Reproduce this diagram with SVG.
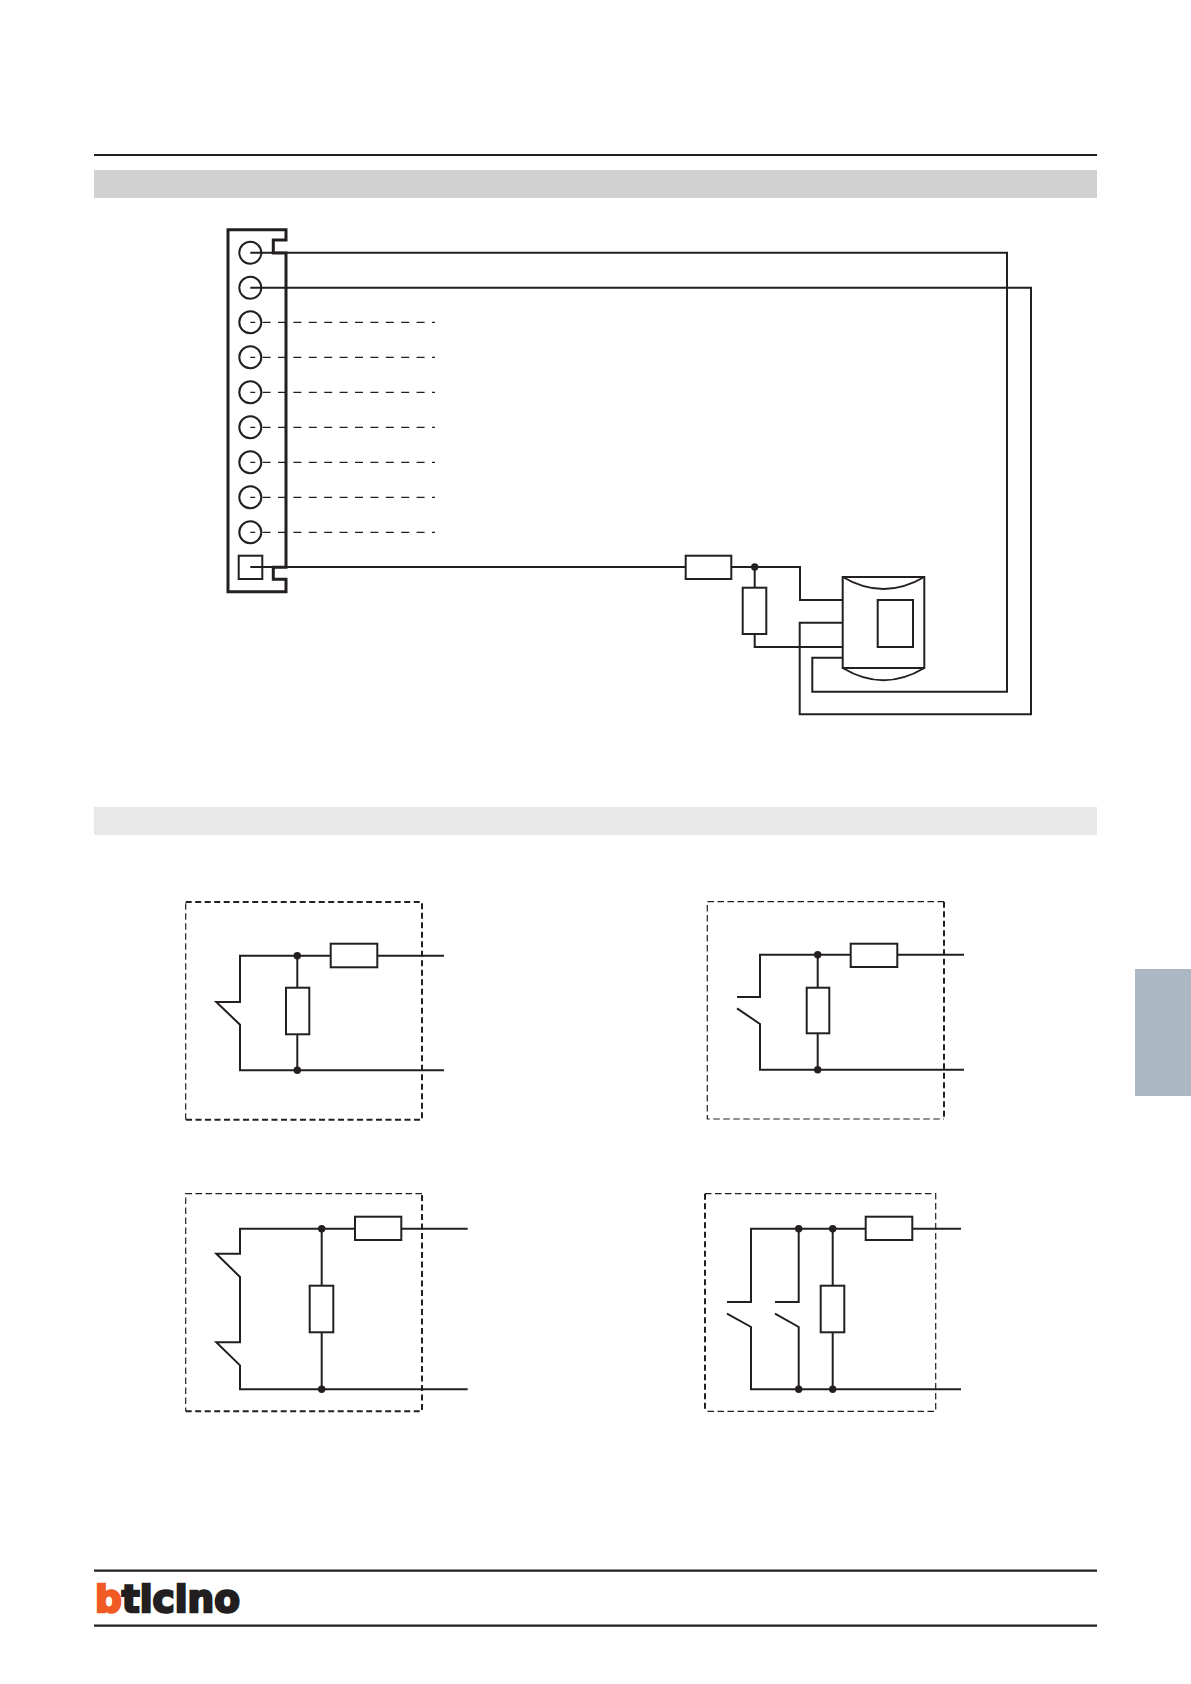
<svg xmlns="http://www.w3.org/2000/svg" width="1191" height="1684" viewBox="0 0 1191 1684">
<defs>
<style>
.w{fill:none;stroke:#231f20;stroke-width:2}
.r{fill:#fff;stroke:#231f20;stroke-width:2}
.d{fill:#231f20}
.ds{fill:none;stroke:#231f20;stroke-width:1.200;stroke-dasharray:8 7.4;stroke-dashoffset:3.1}
.bt{stroke:#231f20;stroke-width:2;stroke-dasharray:6 3.500;fill:none}
.bn{stroke:#231f20;stroke-width:1.200;stroke-dasharray:6.500 3.500;fill:none}
.l{stroke:#231f20;stroke-width:2.200;fill:none}
</style>
</defs>
<rect width="1191" height="1684" fill="#fff"/>
<g id="page">
<path class="l" d="M94 155H1097M94 1570.700H1097M94 1625.700H1097"/>
<rect x="94" y="170" width="1003" height="28" fill="#d1d1d1"/>
<rect x="94" y="807" width="1003" height="28" fill="#e8e8e8"/>
<rect x="1135" y="969" width="56" height="127" fill="#abb8c4"/>
</g>
<g id="logo">
<text x="95" y="1611.700" font-family="'DejaVu Sans',sans-serif" font-weight="700" font-size="38" textLength="145" lengthAdjust="spacingAndGlyphs" stroke-width="2.400" fill="#231f20" stroke="#231f20"><tspan fill="#f15a22" stroke="#f15a22">b</tspan>ticino</text>
</g>
<g id="connectors">
<path class="w" d="M250.300 252.700H1007V691.700H812.300V657.700H842.700"/>
<path class="w" d="M250.300 287.700H1031V714.300H799.700V622.700H842.700"/>
<path class="ds" d="M250.300 322.300H435M250.300 357.300H435M250.300 392.300H435M250.300 427.300H435M250.300 462.300H435M250.300 497.300H435M250.300 532.300H435"/>
<path class="w" d="M250.300 567H685.700M731.300 567H800V600H842.700M754.700 567V587.700M754.700 634V647H842.700"/>
</g>
<g id="terminal-block">
<path fill="none" stroke="#231f20" stroke-width="3" d="M228 229.700H286V240H273.300V253H286V567.300H273.300V579.300H286V591.700H228Z"/>
<g class="w">
<circle cx="250.300" cy="252.700" r="11"/><circle cx="250.300" cy="287.700" r="11"/><circle cx="250.300" cy="322.300" r="11"/><circle cx="250.300" cy="357.300" r="11"/><circle cx="250.300" cy="392.300" r="11"/><circle cx="250.300" cy="427.300" r="11"/><circle cx="250.300" cy="462.300" r="11"/><circle cx="250.300" cy="497.300" r="11"/><circle cx="250.300" cy="532.300" r="11"/>
<rect x="238.700" y="555.700" width="23.600" height="23.300"/>
</g>
</g>
<g id="series-resistor"><rect class="r" x="685.700" y="555.700" width="45.600" height="23.300"/></g>
<g id="parallel-resistor"><rect class="r" x="742.700" y="587.700" width="23.600" height="46.300"/><circle class="d" cx="754.700" cy="567" r="3.700"/></g>
<g id="detector">
<rect class="w" x="842.700" y="577" width="81.600" height="91"/>
<path class="w" d="M842.700 577Q883.500 601 924.300 577M842.700 668Q883.500 692.500 924.300 668"/>
<rect class="w" x="877.700" y="600" width="35.300" height="47"/>
</g>
<g id="circuit-a">
<path class="bn" d="M185.700 1119.700V902"/><path class="bt" d="M185.700 902H422V1119.700H185.700"/>
<path class="w" d="M444 955.700H240V1002H216.300L240 1024.700V1070.300H444M297.300 955.700V1070.300"/>
<rect class="r" x="330.700" y="943.700" width="46.600" height="23.600"/>
<rect class="r" x="286" y="987.700" width="23.300" height="46.600"/>
<circle class="d" cx="297.300" cy="955.700" r="3.700"/><circle class="d" cx="297.300" cy="1070.300" r="3.700"/>
</g>
<g id="circuit-b">
<path class="bn" d="M944 901.700H707.300V1119H944"/><path class="bt" d="M944 901.700V1119"/>
<path class="w" d="M964 954.700H760V997H737M737 1008.300L760 1024V1069.700H964M817.700 954.700V1069.700"/>
<rect class="r" x="850.700" y="943.700" width="46.600" height="23.300"/>
<rect class="r" x="806.700" y="987.700" width="22.600" height="45.600"/>
<circle class="d" cx="817.700" cy="954.700" r="3.700"/><circle class="d" cx="817.700" cy="1069.700" r="3.700"/>
</g>
<g id="circuit-c">
<path class="bn" d="M422 1193.700H185.700V1411.300"/><path class="bt" d="M185.700 1411.300H422V1193.700"/>
<path class="w" d="M467.700 1228.700H240V1253.700H216.300L240 1277V1342.300H216.300L240 1365.300V1389.300H467.700M321.700 1228.700V1389.300"/>
<rect class="r" x="355" y="1216.700" width="46.300" height="23.300"/>
<rect class="r" x="309.700" y="1285.700" width="23.600" height="46.600"/>
<circle class="d" cx="321.700" cy="1228.700" r="3.700"/><circle class="d" cx="321.700" cy="1389.300" r="3.700"/>
</g>
<g id="circuit-d">
<path class="bt" d="M705 1193.700V1411.300"/><path class="bn" d="M705 1193.700H935.700V1411.300H705"/>
<path class="w" d="M961 1228.700H751V1302H727M727 1313.700L751 1327V1389.300H961M798.700 1228.700V1302H775M775 1313.700L798.700 1327V1389.300M832.700 1228.700V1389.300"/>
<rect class="r" x="865.700" y="1216.700" width="46.600" height="23.300"/>
<rect class="r" x="820.700" y="1285.700" width="23.600" height="46.600"/>
<circle class="d" cx="798.700" cy="1228.700" r="3.700"/><circle class="d" cx="832.700" cy="1228.700" r="3.700"/><circle class="d" cx="798.700" cy="1389.300" r="3.700"/><circle class="d" cx="832.700" cy="1389.300" r="3.700"/>
</g>
</svg>
